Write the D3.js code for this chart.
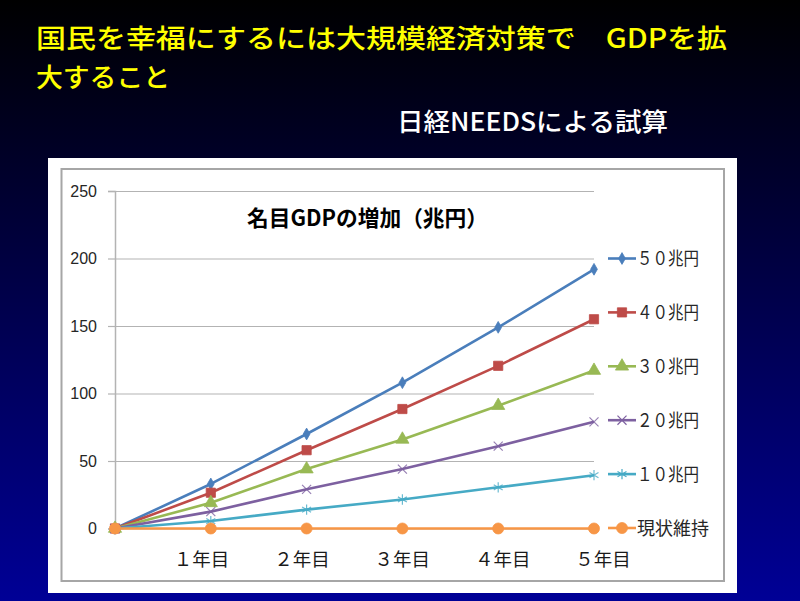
<!DOCTYPE html>
<html><head><meta charset="utf-8">
<script src="https://cdn.jsdelivr.net/npm/d3@7"></script>
<style>html,body{margin:0;padding:0;overflow:hidden;background:#000;}</style>
</head><body>
<svg id="c" width="800" height="601"></svg>
<script>
const titleLine1 = "国民を幸福にするには大規模経済対策で　GDPを拡";
const titleLine2 = "大すること";
const subtitle = "日経NEEDSによる試算";
const chartTitle = "名目GDPの増加（兆円）";
const categories = ["", "１年目", "２年目", "３年目", "４年目", "５年目"];
const seriesNames = ["５０兆円", "４０兆円", "３０兆円", "２０兆円", "１０兆円", "現状維持"];
const s50 = [0, 33, 70, 108, 149, 192];
const s40 = [0, 26.5, 58, 88.5, 120.5, 155];
const s30 = [0, 19, 44, 66, 91, 117];
const s20 = [0, 12.5, 29, 44, 61, 79];
const s10 = [0, 5.5, 14, 21.5, 30.5, 39.5];
const s0 = [0, 0, 0, 0, 0, 0];
const yTicks = [0, 50, 100, 150, 200, 250];

const seriesValues = [s50, s40, s30, s20, s10, s0];
const colors = ["#4A7EBB", "#BE4B48", "#98B954", "#7D60A0", "#46AAC5", "#F79646"];
const symbols = [d3.symbolDiamond, d3.symbolSquare, d3.symbolTriangle, d3.symbolX, d3.symbolAsterisk, d3.symbolCircle];
const symSizes = [40, 85, 75, 55, 75, 95];
const strokeSym = [false, false, false, true, true, false];

const svg = d3.select("#c");
const defs = svg.append("defs");
const grad = defs.append("linearGradient").attr("id", "bg").attr("x1", 0).attr("y1", 0).attr("x2", 0).attr("y2", 1);
grad.append("stop").attr("offset", "0%").attr("stop-color", "#000000");
grad.append("stop").attr("offset", "100%").attr("stop-color", "#000096");
svg.append("rect").attr("width", 800).attr("height", 601).attr("fill", "url(#bg)");

const jp = "'Noto Sans CJK JP', 'Noto Sans', sans-serif";

svg.append("text").attr("x", 36).attr("y", 48).attr("fill", "#FFFF00")
  .attr("font-family", jp).attr("font-size", 26.5).attr("font-weight", 500)
  .attr("textLength", 691).attr("lengthAdjust", "spacingAndGlyphs").text(titleLine1);
svg.append("text").attr("x", 36).attr("y", 87).attr("fill", "#FFFF00")
  .attr("font-family", jp).attr("font-size", 26.5).attr("font-weight", 500)
  .attr("textLength", 134).attr("lengthAdjust", "spacingAndGlyphs").text(titleLine2);
svg.append("text").attr("x", 397).attr("y", 131).attr("fill", "#FFFFFF")
  .attr("font-family", jp).attr("font-size", 25).attr("font-weight", 500)
  .attr("textLength", 271).attr("lengthAdjust", "spacingAndGlyphs").text(subtitle);

// chart frame
svg.append("rect").attr("x", 48).attr("y", 158).attr("width", 689).attr("height", 435).attr("fill", "#fff");
svg.append("rect").attr("x", 61.5).attr("y", 169).attr("width", 662.5).attr("height", 412)
  .attr("fill", "#fff").attr("stroke", "#a6a6a6").attr("stroke-width", 2);

svg.append("text").attr("x", 247).attr("y", 226).attr("fill", "#000")
  .attr("font-family", jp).attr("font-size", 22).attr("font-weight", "bold")
  .attr("textLength", 241).attr("lengthAdjust", "spacingAndGlyphs").text(chartTitle);

const x = d3.scalePoint().domain(categories).range([115, 594]);
const xLabel = d3.scalePoint().domain(categories).range([100.6, 602.6]);
const y = d3.scaleLinear().domain([0, 250]).range([528.5, 191]);

// gridlines
const grid = svg.append("g").attr("transform", "translate(115,0)")
  .call(d3.axisLeft(y).tickValues(yTicks).tickSize(-(594 - 115)).tickFormat(""));
grid.select(".domain").remove();
grid.selectAll("line").attr("stroke", "#b3b3b3").attr("stroke-width", 1.2);

const yAxis = svg.append("g").attr("transform", "translate(115,0)")
  .call(d3.axisLeft(y).tickValues(yTicks).tickSize(7).tickPadding(11));
yAxis.select(".domain").attr("stroke", "#b3b3b3").attr("stroke-width", 1.5);
yAxis.selectAll("line").attr("stroke", "#b3b3b3").attr("stroke-width", 1.2);
yAxis.selectAll("text").attr("font-family", "'Liberation Sans', Arial, sans-serif")
  .attr("font-size", 16).attr("fill", "#262626");

const xAxis = svg.append("g").attr("transform", "translate(0,566)")
  .call(d3.axisBottom(xLabel).tickSize(0).tickPadding(0));
xAxis.select(".domain").remove();
xAxis.selectAll("text").attr("dy", 0).attr("font-family", jp).attr("font-size", 18.5).attr("fill", "#1a1a1a");

const line = d3.line().x((d, i) => x(categories[i])).y(d => y(d));

seriesValues.forEach((vals, si) => {
  const g = svg.append("g");
  g.append("path").datum(vals).attr("d", line).attr("fill", "none")
    .attr("stroke", colors[si]).attr("stroke-width", 2.6).attr("stroke-linejoin", "round");
  const sym = d3.symbol().type(symbols[si]).size(symSizes[si]);
  g.selectAll("path.m").data(vals).enter().append("path").attr("class", "m")
    .attr("transform", (d, i) => `translate(${x(categories[i])},${y(d)})`)
    .attr("d", sym())
    .attr("fill", strokeSym[si] ? "none" : colors[si])
    .attr("stroke", colors[si]).attr("stroke-width", strokeSym[si] ? 1.2 : 0.8)
    .attr("stroke-opacity", strokeSym[si] ? 0.8 : 1);
});

// legend
const ly = d3.scalePoint().domain(seriesNames).range([258.5, 528]);
seriesNames.forEach((name, si) => {
  const g = svg.append("g").attr("transform", `translate(0,${ly(name)})`);
  g.append("line").attr("x1", 608).attr("x2", 636).attr("y1", 0).attr("y2", 0)
    .attr("stroke", colors[si]).attr("stroke-width", 2.6);
  const sym = d3.symbol().type(symbols[si]).size(symSizes[si]);
  g.append("path").attr("transform", "translate(622,0)").attr("d", sym())
    .attr("fill", strokeSym[si] ? "none" : colors[si])
    .attr("stroke", colors[si]).attr("stroke-width", strokeSym[si] ? 1.2 : 0.8);
  const t = g.append("text").attr("x", 637).attr("y", 6.5).attr("fill", "#262626")
    .attr("font-family", jp).attr("font-size", 18).text(name);
  if (si < 5) t.attr("textLength", 62).attr("lengthAdjust", "spacingAndGlyphs");
});
</script>
</body></html>
